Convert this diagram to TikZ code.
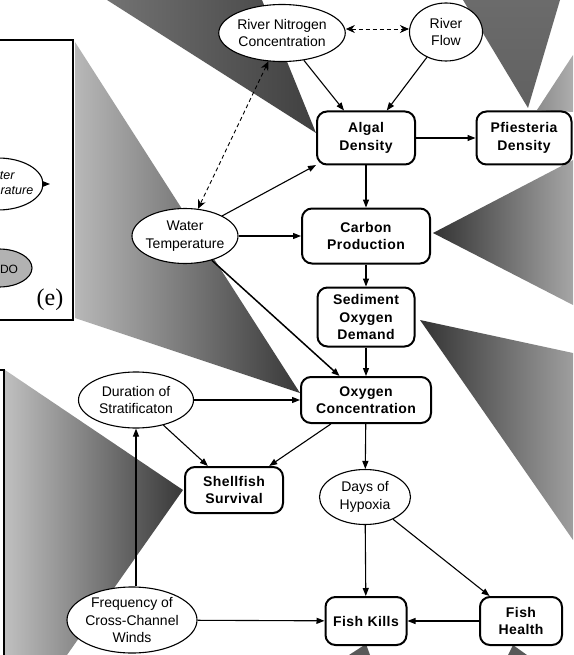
\documentclass[tikz,border=0pt]{standalone}
\usepackage{fontspec}
\setmainfont{Liberation Sans}
\newfontfamily\serife{Liberation Serif}
\newfontfamily\bxfont[LetterSpace=3]{Liberation Sans}
\usetikzlibrary{shapes.geometric,arrows.meta}
\begin{document}
\begin{tikzpicture}[x=1pt,y=-1pt,
  font=\fontsize{14}{17.5}\selectfont,
  bx/.style={draw, rounded corners=10pt, line width=2pt, fill=white, align=center,
             font=\bxfont\fontsize{14}{17.5}\selectfont\bfseries, inner sep=0pt},
  el/.style={draw, ellipse, line width=1.1pt, fill=white, align=center, inner sep=0pt},
  arr/.style={-{Triangle[length=8pt,width=6pt]}, line width=1.1pt},
  darr/.style={{Stealth[length=9pt,width=8pt]}-{Stealth[length=9pt,width=8pt]}, dash pattern=on 4pt off 3pt, line width=0.9pt},
  inset/.style={draw, line width=2pt, fill=white}
]
\useasboundingbox (0,0) rectangle (573,655);
\clip (0,0) rectangle (573,655);
% background wedges
\shade[left color=black!55, right color=black!75] (107,0) -- (262,0) -- (316,133) -- cycle;
\shade[top color=black!58, bottom color=black!62] (463,0) -- (560,0) -- (528,108) -- cycle;
\shade[left color=black!45, right color=black!32] (537,110) -- (573,55) -- (573,112) -- cycle;
\shade[left color=black!80, right color=black!35] (433,233) -- (573,160) -- (573,305) -- cycle;
\shade[left color=black!80, right color=black!38] (420,320) -- (573,353) -- (573,540) -- cycle;
\shade[left color=black!28, right color=black!78] (75,42) -- (75,318) -- (300,393) -- cycle;
\shade[left color=black!25, right color=black!78] (5,370) -- (183,490) -- (67,655) -- (5,655) -- cycle;
\fill[black!65] (349,655) -- (366,644) -- (370,655) -- cycle;
\fill[black!65] (508,655) -- (513,645) -- (527,655) -- cycle;
% inset boxes
\draw[inset] (-10,40) rectangle (73,320);
\draw[inset] (-10,370) rectangle (4,670);
\node[el, minimum width=90, minimum height=52, inner xsep=-6pt,
      font=\fontsize{12.5}{15}\selectfont\itshape] (iwt) at (-2,184) {Water\\Temperature};
\coordinate (itip) at (50,184);
\draw[arr] (iwt.east) -- (itip);
\node[draw, ellipse, fill=black!30, line width=1.1pt, minimum width=66, minimum height=38] (ido) at (-1,268) {};
\node[font=\fontsize{12}{14}\selectfont] (idot) at (9,269) {DO};
\node[font=\serife\fontsize{24}{28}\selectfont] (elab) at (50,300) {(e)};
% main nodes
\node[el, minimum width=121, minimum height=57] (rn) at (282,33) {River Nitrogen\\Concentration};
\node[el, minimum width=73, minimum height=58] (rf) at (446,32) {River\\Flow};
\node[el, minimum width=106, minimum height=55, inner xsep=-3pt] (wt) at (185,236) {Water\\Temperature};
\node[el, minimum width=115, minimum height=56] (dur) at (136,400) {Duration of\\Stratificaton};
\node[el, minimum width=91, minimum height=55] (dh) at (365,497) {Days of\\Hypoxia};
\node[el, minimum width=130, minimum height=66, inner xsep=-2pt, inner ysep=-2pt] (fq) at (132,620) {Frequency of\\Cross-Channel\\Winds};
\node[bx, minimum width=98, minimum height=53] (algal) at (366,138) {Algal\\Density};
\node[bx, minimum width=95, minimum height=53] (pf) at (524,138) {Pfiesteria\\Density};
\node[bx, minimum width=128, minimum height=55] (carbon) at (366,236) {Carbon\\Production};
\node[bx, minimum width=97, minimum height=59] (sod) at (366,317) {Sediment\\Oxygen\\Demand};
\node[bx, minimum width=130, minimum height=46] (oc) at (366,400) {Oxygen\\Concentration};
\node[bx, minimum width=98, minimum height=46] (sh) at (234,490) {Shellfish\\Survival};
\node[bx, minimum width=81, minimum height=48] (fk) at (366,621) {Fish Kills};
\node[bx, minimum width=82, minimum height=48] (fh) at (521,621) {Fish\\Health};
% connectors
\draw[darr] ([yshift=4pt]rn.east) -- ([yshift=3pt]rf.west);
\draw[darr] (rn) -- (wt);
\draw[arr] (rn) -- (algal);
\draw[arr] (rf) -- (algal);
\draw[arr] (wt) -- (algal);
\draw[arr] (wt) -- (carbon);
\draw[arr, line width=1.5pt] (wt) -- (oc);
\draw[arr] (algal) -- (pf);
\draw[arr] (algal) -- (carbon);
\draw[arr] (carbon) -- (sod);
\draw[arr] (sod) -- (oc);
\draw[arr] (dur) -- (oc);
\draw[arr] (dur) -- (sh);
\draw[arr] (oc) -- (sh);
\draw[arr] (oc) -- (dh);
\draw[arr] (dh) -- (fk);
\draw[arr] (dh) -- (fh);
\draw[arr] (fh) -- (fk);
\draw[arr] (fq) -- (fk);
\draw[arr] (fq.north -| dur.south) -- (dur.south);
\end{tikzpicture}
\end{document}
